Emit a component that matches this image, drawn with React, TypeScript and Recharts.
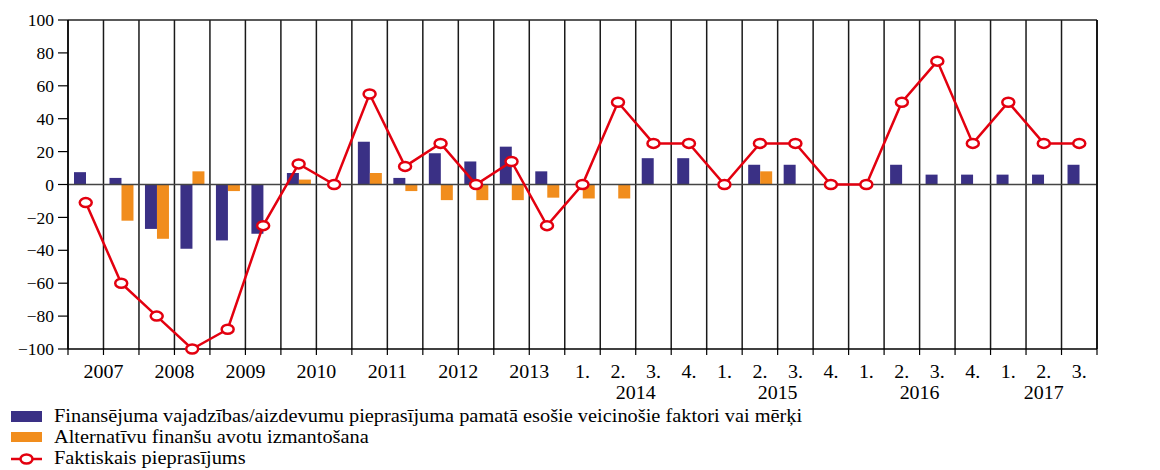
import React from 'react'
import { ComposedChart, Bar, Line, XAxis, YAxis, CartesianGrid, ReferenceLine } from 'recharts'

const periods = [
  '2007 H1', '2007 H2', '2008 H1', '2008 H2', '2009 H1', '2009 H2', '2010 H1', '2010 H2',
  '2011 H1', '2011 H2', '2012 H1', '2012 H2', '2013 H1', '2013 H2',
  '2014 Q1', '2014 Q2', '2014 Q3', '2014 Q4', '2015 Q1', '2015 Q2', '2015 Q3', '2015 Q4',
  '2016 Q1', '2016 Q2', '2016 Q3', '2016 Q4', '2017 Q1', '2017 Q2', '2017 Q3',
]
const years = [
  '2007', '2007', '2008', '2008', '2009', '2009', '2010', '2010',
  '2011', '2011', '2012', '2012', '2013', '2013',
  '2014', '2014', '2014', '2014', '2015', '2015', '2015', '2015',
  '2016', '2016', '2016', '2016', '2017', '2017', '2017',
]
const subLabels = [
  '', '', '', '', '', '', '', '', '', '', '', '', '', '',
  '1.', '2.', '3.', '4.', '1.', '2.', '3.', '4.', '1.', '2.', '3.', '4.', '1.', '2.', '3.',
]
const drivers = [7.5, 4, -27, -39, -34, -30, 7, null, 26, 4, 19, 14, 23, 8, null, null, 16, 16, null, 12, 12, null, null, 12, 6, 6, 6, 6, 12]
const alternatives = [null, -22, -33, 8, -4, null, 3, null, 7, -4, -9.5, -9.5, -9.5, -8, -8.5, -8.5, null, null, null, 8, null, null, null, null, null, null, null, null, null]
const actual = [-11, -60, -80, -100, -88, -25, 12.5, 0, 55, 11, 25, 0, 14, -25, 0, 50, 25, 25, 0, 25, 25, 0, 0, 50, 75, 25, 50, 25, 25]
const yTicks = [-100, -80, -60, -40, -20, 0, 20, 40, 60, 80, 100]

const seriesNames = [
  'Finansējuma vajadzības/aizdevumu pieprasījuma pamatā esošie veicinošie faktori vai mērķi',
  'Alternatīvu finanšu avotu izmantošana',
  'Faktiskais pieprasījums',
]

const BLUE = '#3a3085'
const ORANGE = '#f18d1d'
const RED = '#e3000f'
const FONT = '"Liberation Serif", "Times New Roman", serif'

const W = 1160
const H = 470
const LEFT = 68
const RIGHT = 1097
const band = (RIGHT - LEFT) / periods.length

const data = periods.map((p, i) => ({
  period: p,
  drivers: drivers[i],
  alternatives: alternatives[i],
  actual: actual[i],
}))

const fmt = (v: number) => (v < 0 ? '\u2212' + Math.abs(v) : String(v))

// x labels in the original look slightly stretched sideways
const XLabel = ({ x, y, children }: any) => (
  <text
    transform={`translate(${x} ${y}) scale(1.05 1)`}
    dy="0.35em"
    textAnchor="middle"
    fontSize={19}
    fontFamily={FONT}
    fill="#000"
  >
    {children}
  </text>
)

const XTick = (props: any) => {
  const { x, y, payload } = props
  const i = payload.index
  const n = periods.length
  const left = x - band / 2
  const sub = subLabels[i]
  let yearLabel = null
  if (i === 0 || years[i] !== years[i - 1]) {
    let last = i
    while (last + 1 < n && years[last + 1] === years[i]) last++
    const cx = x + ((last - i) * band) / 2
    yearLabel = <XLabel x={cx} y={sub ? y + 43 : y + 22}>{years[i]}</XLabel>
  }
  return (
    <g>
      <line x1={left} x2={left} y1={y} y2={y + 6} stroke="#000" strokeWidth={1.2} />
      {i === n - 1 && <line x1={x + band / 2} x2={x + band / 2} y1={y} y2={y + 6} stroke="#000" strokeWidth={1.2} />}
      {sub && <XLabel x={x} y={y + 22}>{sub}</XLabel>}
      {yearLabel}
    </g>
  )
}

const LeftTick = (props: any) => {
  const { x, y, payload } = props
  return (
    <text x={x} y={y} dy="0.35em" textAnchor="end" fontSize={17.5} fontFamily={FONT} fill="#000">
      {fmt(payload.value)}
    </text>
  )
}

const RightTick = (props: any) => {
  const { x, y, payload } = props
  return (
    <text x={x + 47} y={y} dy="0.35em" textAnchor="end" fontSize={17.5} fontFamily={FONT} fill="#000">
      {fmt(payload.value)}
    </text>
  )
}

const Dot = (props: any) => {
  const { cx, cy } = props
  if (cx == null || cy == null) return null
  return <ellipse cx={cx} cy={cy} rx={6} ry={4.5} fill="#fff" stroke={RED} strokeWidth={2.5} />
}

const gridX = ({ offset }: any) =>
  periods.map((_, i) => offset.left + (i * offset.width) / periods.length).concat(offset.left + offset.width)

const App = () => {
  return (
    <div style={{ position: 'absolute', left: 0, top: 0, width: W, height: H, background: '#fff' }}>
      <ComposedChart
        width={W}
        height={H}
        data={data}
        margin={{ top: 20, right: 0, left: 0, bottom: 71 }}
        barGap={0}
      >
        <CartesianGrid horizontal={false} vertical verticalCoordinatesGenerator={gridX} stroke="#1a1a1a" strokeWidth={1.5} />
        <XAxis
          dataKey="period"
          interval={0}
          height={50}
          tickSize={0}
          tickMargin={0}
          tickLine={false}
          axisLine={{ stroke: '#000', strokeWidth: 1.4 }}
          tick={<XTick />}
        />
        <YAxis
          yAxisId="left"
          domain={[-100, 100]}
          ticks={yTicks}
          width={68}
          tickSize={10}
          tickMargin={4}
          interval={0}
          axisLine={{ stroke: '#000', strokeWidth: 1.4 }}
          tickLine={{ stroke: '#000', strokeWidth: 1.2 }}
          tick={<LeftTick />}
        />
        <YAxis
          yAxisId="right"
          orientation="right"
          domain={[-100, 100]}
          ticks={yTicks}
          width={63}
          tickSize={9}
          tickMargin={0}
          interval={0}
          axisLine={{ stroke: '#000', strokeWidth: 1.4 }}
          tickLine={{ stroke: '#000', strokeWidth: 1.2 }}
          tick={<RightTick />}
        />
        <ReferenceLine yAxisId="left" y={100} stroke="#222" strokeWidth={1.4} />
        <ReferenceLine yAxisId="left" y={0} stroke="#444" strokeWidth={1.6} />
        <Bar yAxisId="left" dataKey="drivers" name={seriesNames[0]} fill={BLUE} barSize={12} isAnimationActive={false} />
        <Bar yAxisId="left" dataKey="alternatives" name={seriesNames[1]} fill={ORANGE} barSize={12} isAnimationActive={false} />
        <Line
          yAxisId="left"
          dataKey="actual"
          name={seriesNames[2]}
          stroke={RED}
          strokeWidth={2.5}
          dot={<Dot />}
          activeDot={false}
          isAnimationActive={false}
        />
      </ComposedChart>
      <div style={{ position: 'absolute', left: 0, top: 406, fontFamily: FONT, fontSize: 18.5, color: '#000', lineHeight: '21px' }}>
        {seriesNames.map((name, i) => (
          <div key={name} style={{ display: 'flex', alignItems: 'center', height: 21 }}>
            <svg width={54} height={21}>
              {i === 0 && <rect x={11} y={5} width={31} height={11} fill={BLUE} />}
              {i === 1 && <rect x={11} y={5} width={31} height={10} fill={ORANGE} />}
              {i === 2 && (
                <g>
                  <line x1={11} x2={42} y1={11} y2={11} stroke={RED} strokeWidth={2.5} />
                  <ellipse cx={26.5} cy={11} rx={6} ry={4.5} fill="#fff" stroke={RED} strokeWidth={2.5} />
                </g>
              )}
            </svg>
            <span style={{ whiteSpace: 'nowrap', display: 'inline-block', transform: 'scaleX(1.1)', transformOrigin: 'left center' }}>
              {name}
            </span>
          </div>
        ))}
      </div>
    </div>
  )
}

export default App
